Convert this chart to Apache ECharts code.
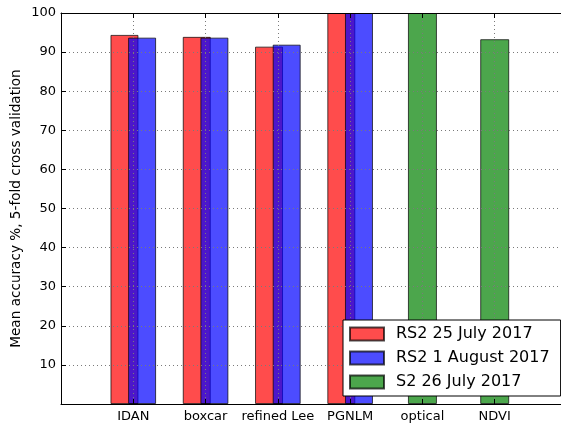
<!DOCTYPE html>
<html>
<head>
<meta charset="utf-8">
<script src="https://cdn.jsdelivr.net/npm/echarts@6/dist/echarts.min.js"></script>
<style>html,body{margin:0;padding:0;background:#fff}#c{width:561px;height:428px}</style>
</head>
<body>
<div id="c"></div>
<script>
var categories = ['IDAN', 'boxcar', 'refined Lee', 'PGNLM', 'optical', 'NDVI'];
var rs2July = [94.4, 93.9, 91.4, 100, null, null];
var rs2Aug = [93.7, 93.7, 91.9, 100, null, null];
var s2July = [null, null, null, null, 100, 93.3];
var yTicks = [0, 10, 20, 30, 40, 50, 60, 70, 80, 90, 100];
var seriesNames = ['RS2 25 July 2017', 'RS2 1 August 2017', 'S2 26 July 2017'];

function pad(a) { return [null].concat(a, [null]); }
var axisCats = [''].concat(categories, ['']);
var font = 'DejaVu Sans';
var grid = '#7a7a7a';
function inner(i) { return i > 0 && i < axisCats.length - 1; }

var chart = echarts.init(document.getElementById('c'), null, {renderer: 'canvas'});
chart.setOption({
  animation: false,
  textStyle: {fontFamily: font},
  grid: {left: 61, right: -6, top: 13, bottom: 24, outerBoundsMode: 'none', containLabel: false},
  legend: {
    orient: 'vertical', left: 343, top: 320, z: 10,
    padding: [6, 11, 6, 6],
    icon: 'rect',
    itemWidth: 34, itemHeight: 13, itemGap: 8,
    backgroundColor: '#fff', borderColor: '#000', borderWidth: 1, borderRadius: 0,
    textStyle: {fontFamily: font, fontSize: 16, color: '#000', padding: [0, 0, 0, 7]},
    data: seriesNames
  },
  xAxis: [{
    type: 'category', data: axisCats, boundaryGap: false, position: 'bottom', z: 5,
    axisLine: {lineStyle: {color: '#000', width: 1}},
    axisTick: {inside: true, length: 5, lineStyle: {color: '#000'}, interval: inner},
    axisLabel: {color: '#000', fontSize: 13, fontFamily: font, margin: 6, interval: 0},
    splitLine: {show: true, interval: inner, lineStyle: {color: grid, type: [1, 3], width: 1}}
  }, {
    type: 'category', data: axisCats, boundaryGap: false, position: 'top', z: 5,
    axisLine: {lineStyle: {color: '#000', width: 1}},
    axisTick: {inside: true, length: 5, lineStyle: {color: '#000'}, interval: inner},
    axisLabel: {show: false},
    splitLine: {show: false}
  }],
  yAxis: {
    type: 'value', min: yTicks[0], max: yTicks[yTicks.length - 1], interval: 10, z: 5,
    name: 'Mean accuracy %, 5-fold cross validation',
    nameLocation: 'middle', nameGap: 38, nameMoveOverlap: false,
    nameTextStyle: {fontFamily: font, fontSize: 13.6, color: '#000'},
    axisLine: {show: true, lineStyle: {color: '#000', width: 1}},
    axisTick: {show: true, inside: true, length: 5, lineStyle: {color: '#000'}},
    axisLabel: {color: '#000', fontSize: 13, fontFamily: font, margin: 5,
      formatter: function(v){ return v === 0 ? '' : String(v); }},
    splitLine: {show: true, lineStyle: {color: grid, type: [1, 3], width: 1}}
  },
  series: [{
    name: seriesNames[0], type: 'bar', xAxisIndex: 0, data: pad(rs2July),
    barWidth: 28, barGap: '-37%',
    itemStyle: {color: '#ff0000', borderColor: '#000', borderWidth: 1, opacity: 0.7}
  }, {
    name: seriesNames[1], type: 'bar', xAxisIndex: 0, data: pad(rs2Aug),
    barWidth: 28, barGap: '-37%',
    itemStyle: {color: '#0000ff', borderColor: '#000', borderWidth: 1, opacity: 0.7}
  }, {
    name: seriesNames[2], type: 'bar', xAxisIndex: 1, data: pad(s2July),
    barWidth: 29,
    itemStyle: {color: '#008000', borderColor: '#000', borderWidth: 1, opacity: 0.7}
  }]
});
</script>
</body>
</html>
